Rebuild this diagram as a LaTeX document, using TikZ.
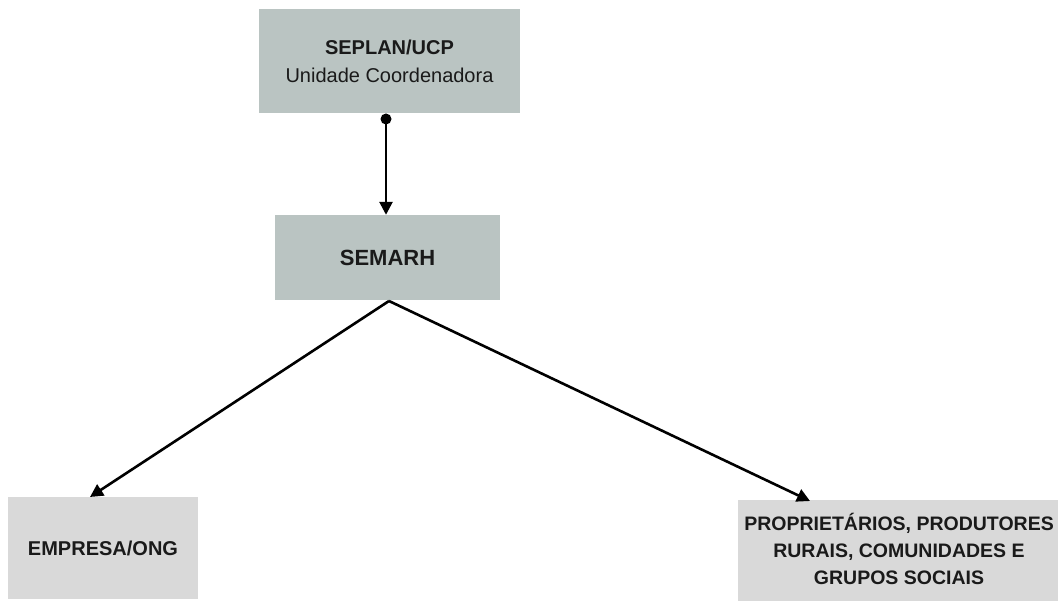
\documentclass[tikz,border=0pt]{standalone}
\usepackage{fontspec}
\setmainfont{Liberation Sans}
\usetikzlibrary{arrows.meta}
\definecolor{boxA}{HTML}{BAC4C2}
\definecolor{boxB}{HTML}{D9D9D9}
\definecolor{txt}{HTML}{1A1A1A}
\tikzset{
  darkbox/.style={fill=boxA, draw=none, inner sep=0pt, text=txt, align=center},
  lightbox/.style={fill=boxB, draw=none, inner sep=0pt, text=txt, align=center},
  conn/.style={line width=2.6pt, -{Stealth[length=13pt,width=13pt,inset=0pt]}}
}
\begin{document}
\begin{tikzpicture}[x=1pt,y=-1pt]
\useasboundingbox (0,0) rectangle (1058,601);
\node[darkbox, minimum width=261pt, minimum height=104pt, font=\fontsize{20}{28}\selectfont] (seplan) at (389.5,61)
  {\textbf{SEPLAN/UCP}\\Unidade Coordenadora};
\node[darkbox, minimum width=225pt, minimum height=85pt, font=\fontsize{22}{26}\selectfont\bfseries] (semarh) at (387.5,257.5) {SEMARH};
\node[lightbox, minimum width=190pt, minimum height=102pt, font=\fontsize{20}{26}\selectfont\bfseries] (empresa) at (103,548) {EMPRESA/ONG};
\node[lightbox, minimum width=322pt, minimum height=102pt, font=\fontsize{19.5}{27}\selectfont\bfseries] (prop) at (899,551)
  {PROPRIETÁRIOS, PRODUTORES\\RURAIS, COMUNIDADES E\\GRUPOS SOCIAIS\vphantom{$\big($}};
\coordinate (dot) at (386,119);
\coordinate (apex) at (389,301);
\coordinate (tipL) at (90,497);
\coordinate (tipR) at (810,501);
\fill[black] (dot) circle (5.5pt);
\draw[conn] (dot) -- (semarh.north -| dot);
\draw[conn] (apex) -- (tipL);
\draw[conn] (apex) -- (tipR);
\end{tikzpicture}
\end{document}
